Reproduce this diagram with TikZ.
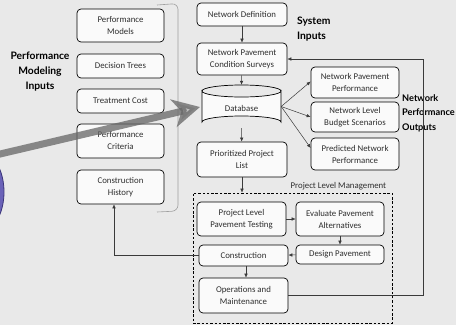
\documentclass[tikz,border=0pt]{standalone}
\usepackage{fontspec}
\setmainfont{Carlito}
\newfontfamily\handfont{Lato}
\usetikzlibrary{arrows.meta,calc}
\definecolor{bgcol}{HTML}{E9E9E9}
\definecolor{boxfill}{HTML}{FAFAFA}
\definecolor{txtcol}{HTML}{2E2E2E}
\definecolor{linkcol}{HTML}{3A3A3A}
\definecolor{orbcol}{HTML}{6A62B8}
\definecolor{orbedge}{HTML}{3B357A}
\begin{document}
\begin{tikzpicture}[x=1pt,y=-1pt,
  stepbox/.style={draw=black, line width=0.7pt, rounded corners=4pt, fill=boxfill,
    align=center, text=txtcol, inner sep=1pt,
    font=\fontsize{8.8}{12}\selectfont},
  dims/.style 2 args={minimum width=#1pt, minimum height=#2pt},
  link/.style={draw=linkcol, line width=0.5pt, -{Latex[length=4pt,width=3.5pt]}},
  handlabel/.style={font=\handfont\bfseries\fontsize{10.3}{15}\selectfont, text=black, inner sep=0pt},
  frame/.style={draw=black, line width=0.7pt, dashed, dash pattern=on 2.5pt off 1.8pt},
  grouptext/.style={font=\fontsize{8.8}{10}\selectfont, text=txtcol, inner sep=0pt}]

% canvas
\fill[bgcol] (0,0) rectangle (456,325);
\useasboundingbox (0,0) rectangle (456,325);
\clip (0,0) rectangle (456,325);

% partial orb at the left edge
\fill[orbcol, draw=orbedge, line width=0.8pt] (-20,192) ellipse [x radius=24, y radius=40];

% performance modelling inputs
\node[stepbox, dims={87}{33}] (pm) at (120.5,25.5) {Performance\\Models};
\node[stepbox, dims={87}{24}] (dt) at (120.5,66) {Decision Trees};
\node[stepbox, dims={87}{24}] (tc) at (120.5,101) {Treatment Cost};
\node[stepbox, dims={87}{34}] (pc) at (120.5,141) {Performance\\Criteria};
\node[stepbox, dims={87}{34}] (ch) at (120.5,187) {Construction\\History};

% grouping bracket of the inputs
\draw[gray!75, line width=0.6pt, rounded corners=6pt] (157,5) -- (178,3.5) -- (178,211) -- (157,212);

\node[handlabel, align=center] (pmi) at (40,72) {Performance\\Modeling\\Inputs};

% network level chain
\node[stepbox, dims={90}{23}] (nd) at (242,14.5) {Network Definition};
\node[stepbox, dims={90}{32}] (ncs) at (242,59) {Network Pavement\\Condition Surveys};

% database cylinder
\node[minimum width=79pt, minimum height=43pt, inner sep=0pt] (db) at (241.5,106.5) {};
\draw[black, line width=0.7pt, fill=boxfill]
  (202,91) -- (202,122) arc[start angle=180, end angle=360, x radius=39.5, y radius=6]
  -- (281,91) arc[start angle=0, end angle=180, x radius=39.5, y radius=6] -- cycle;
\draw[black, line width=0.7pt] (202,91) arc[start angle=180, end angle=360, x radius=39.5, y radius=6];
\node[text=txtcol, font=\fontsize{8.8}{10}\selectfont] (dblabel) at (241.5,108) {Database};

\node[stepbox, dims={90}{35}] (pl) at (242,159.5) {Prioritized Project\\List};

\node[handlabel, align=left, anchor=north west] (sys) at (297,17) {System\\Inputs};

% network outputs
\node[stepbox, dims={88}{31}] (np) at (355,82.5) {Network Pavement\\Performance};
\node[stepbox, dims={88}{30}] (bs) at (355,117) {Network Level\\Budget Scenarios};
\node[stepbox, dims={88}{32}] (pnp) at (355,154) {Predicted Network\\Performance};

\node[handlabel, font=\handfont\bfseries\fontsize{9.2}{14.5}\selectfont, align=left, anchor=north west]
  (npo) at (402,94) {Network\\Performance\\Outputs};

% project level management
\node[frame, minimum width=199pt, minimum height=130pt, inner sep=0pt] (plm) at (292.5,258) {};
\node[grouptext, anchor=south east] (plmlabel) at ([xshift=-6pt,yshift=2pt]plm.north east) {Project Level Management};

\node[stepbox, dims={89}{34}] (plpt) at (241.5,219) {Project Level\\Pavement Testing};
\node[stepbox, dims={88}{34}] (epa) at (340,219) {Evaluate Pavement\\Alternatives};
\node[stepbox, dims={88}{19}] (dp) at (340,254.5) {Design Pavement};
\node[stepbox, dims={89}{21}] (con) at (243.5,255.5) {Construction};
\node[stepbox, dims={89}{35}] (om) at (243.5,295.5) {Operations and\\Maintenance};

% connectors
\draw[link] (nd) -- (ncs);
\draw[link] (ncs) -- (db.north);
\draw[link] (db.south) -- (pl);
\draw[link] (db.east) -- ([yshift=1pt]np.west);
\draw[link] (db.east) -- (bs.west);
\draw[link] (db.east) -- ([yshift=6pt]pnp.west);
\draw[link] (pl.south) -- (pl.south |- plm.north);
\draw[link] (plpt) -- (epa);
\draw[link] (epa) -- (dp);
\draw[link] (dp) -- (con);
\draw[link] ([xshift=2.5pt]con.south) -- ([xshift=2.5pt]om.north);
\draw[link] (con.west) -| ([xshift=-6.5pt]ch.south);
\coordinate (fb) at (423,0);
\draw[link] (om.east) -- (om.east -| fb) |- (ncs.east);

% broad pointer into the database
\draw[gray!80!black, opacity=0.75, line width=7pt,
  -{Stealth[length=27pt, width=28pt, inset=8pt, fill=gray!60]}] (-2,154.5) -- (200,107);
\end{tikzpicture}
\end{document}
